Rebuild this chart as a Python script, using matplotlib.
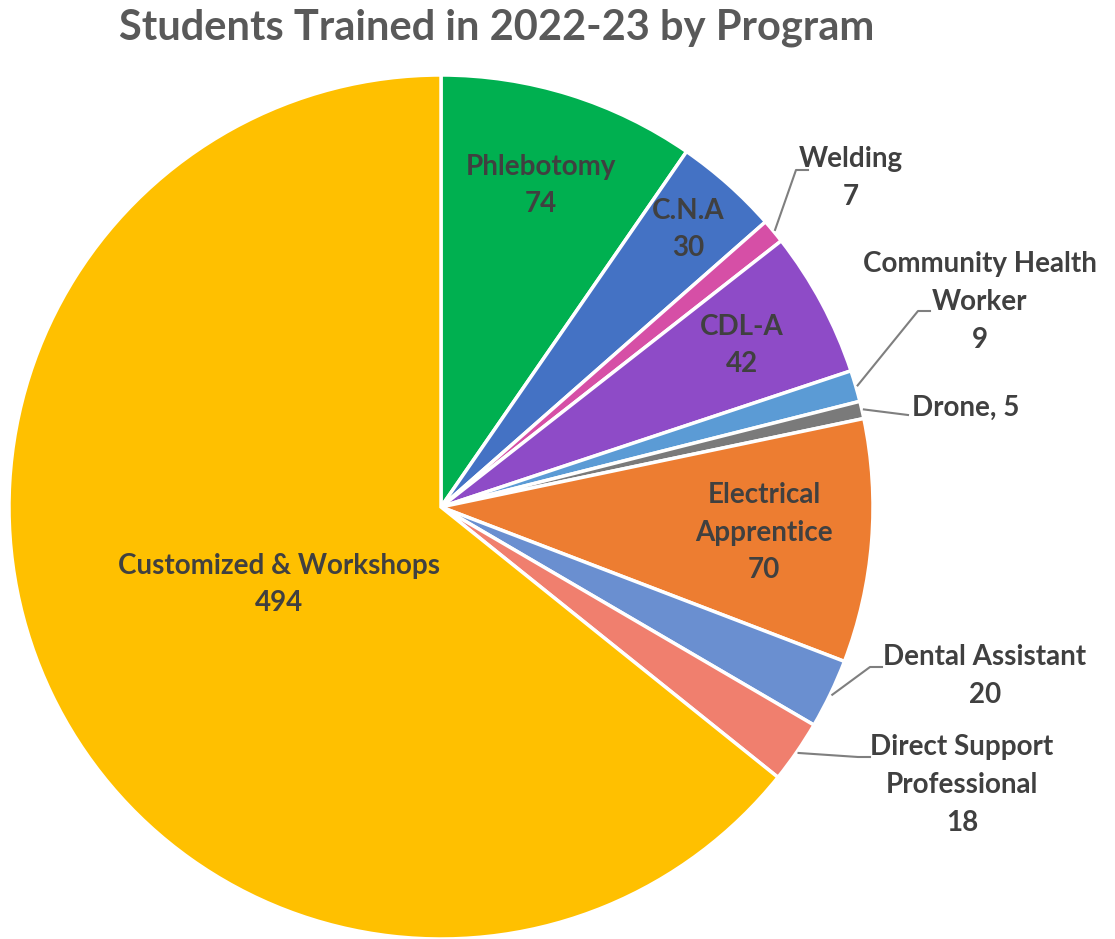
import numpy as np
import matplotlib
matplotlib.use("Agg")
import matplotlib.pyplot as plt

plt.rcParams['font.family'] = ['Lato', 'DejaVu Sans']

# program names and student counts, clockwise from 12 o'clock
programs = ["Phlebotomy", "C.N.A", "Welding", "CDL-A", "Community Health\nWorker",
            "Drone", "Electrical\nApprentice", "Dental Assistant",
            "Direct Support\nProfessional", "Customized & Workshops"]
students = [74, 30, 7, 42, 9, 5, 70, 20, 18, 494]
colors = ["#00B050", "#4472C4", "#D64FA6", "#8E4BC7", "#5B9BD5",
          "#7A7A7A", "#ED7D31", "#6A8FD0", "#F07F6E", "#FFC000"]

# labels drawn inside the wedge: index -> radial fraction of the label centre
inside = {0: 0.78, 1: 0.86, 3: 0.79, 6: 0.75, 9: 0.415}
# labels drawn outside with a leader line: index -> (text x, text y, elbow x, elbow y, ha)
outside = {
    2: (851, 761, 796, 769, "center"),
    4: (980, 637, 918, 628, "center"),
    5: (912, 531, 908, 524, "left"),
    7: (985, 263, 870, 272, "center"),
    8: (962, 154, 858, 182, "center"),
}

W, H = 1115, 939
cx, cy, R = 441, 432, 432

fig = plt.figure(figsize=(W / 100, H / 100), dpi=100)
ax = fig.add_axes([0, 0, 1, 1])

wedges, _ = ax.pie(students, colors=colors, startangle=90, counterclock=False,
                   center=(cx, cy), radius=R, frame=True,
                   wedgeprops=dict(edgecolor='white', linewidth=2.5))
ax.set_xlim(0, W)
ax.set_ylim(0, H)
ax.set_aspect('equal')
ax.axis('off')

txt = dict(fontsize=20, fontweight='bold', color='#404040', linespacing=1.55)

for i, w in enumerate(wedges):
    mid = np.deg2rad((w.theta1 + w.theta2) / 2)
    label = f"{programs[i]}\n{students[i]}"
    if i in inside:
        r = inside[i] * R
        ax.text(cx + r * np.cos(mid), cy + r * np.sin(mid), label,
                ha='center', va='center', **txt)
    else:
        tx, ty, ex, ey, ha = outside[i]
        px, py = cx + (R + 2) * np.cos(mid), cy + (R + 2) * np.sin(mid)
        if i == 5:
            label = f"{programs[i]}, {students[i]}"
            ax.plot([px, ex], [py, ey], color='#7F7F7F', lw=1.5)
        else:
            hx = ex + 12
            ax.plot([px, ex, hx], [py, ey, ey], color='#7F7F7F', lw=1.5)
        ax.text(tx, ty, label, ha=ha, va='center', **txt)

fig.text(497 / W, 1 - 28 / H, "Students Trained in 2022-23 by Program",
         ha='center', va='center', fontsize=30, fontweight='bold', color='#595959')

fig.savefig("out.png", dpi=100, facecolor='white')
